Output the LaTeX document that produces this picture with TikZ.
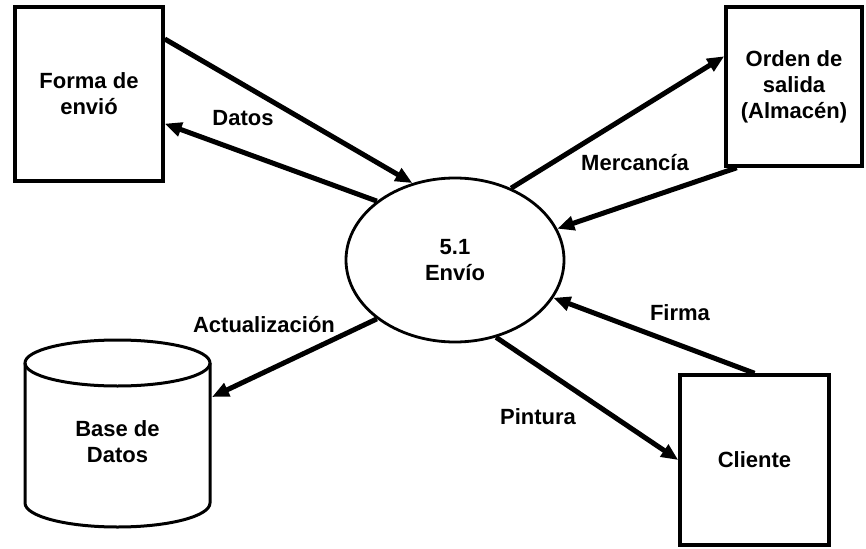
\documentclass[tikz,border=0pt]{standalone}
\usepackage{fontspec}
\setmainfont{Liberation Sans}
\usetikzlibrary{arrows.meta,calc,shapes.geometric}
\begin{document}
\begin{tikzpicture}[x=1pt,y=-1pt,
  lbl/.style={font=\fontsize{22}{26}\selectfont\bfseries, align=center, inner sep=0pt},
  ent/.style={draw, line width=3.5pt, lbl},
  flow/.style={line width=5pt, -{Triangle[length=17pt,width=14pt]}}]
\useasboundingbox (0,0) rectangle (866,548);
% entities
\node[ent, minimum width=148pt, minimum height=174pt] (forma) at (89,94) {Forma de\\envió};
\node[ent, minimum width=136pt, minimum height=159pt] (orden) at (794,86.5) {Orden de\\salida\\(Almacén)};
\node[ent, minimum width=149pt, minimum height=170pt] (cli) at (754.5,460) {Cliente};
\node[draw, ellipse, line width=2.8pt, minimum width=218pt, minimum height=164pt, lbl] (env) at (455,260) {5.1\\Envío};
% data store (cylinder)
\draw[line width=3pt] (117.5,363) ellipse [x radius=92.5, y radius=23];
\draw[line width=3pt] (25,363) -- (25,503) arc[start angle=180, end angle=0, x radius=92.5, y radius=24] -- (210,363);
\node[lbl] (db) at (117.5,442) {Base de\\Datos};
\coordinate (dbin) at (212,397);
% flows
\draw[flow] ($(forma.north east)!0.19!(forma.south east)$) -- (env.119);
\draw[flow] (env.143) -- ($(forma.north east)!0.667!(forma.south east)$);
\draw[flow] (env.52.6) -- ($(orden.north west)!0.314!(orden.south west)$);
\draw[flow] ($(orden.south west)!0.09!(orden.south east)$) -- (env.17.6);
\draw[flow] (env.217) -- (dbin);
\draw[flow] (env.-62) -- (cli.west);
\draw[flow] (cli.north) -- (env.-21);
% labels
\node[lbl] (l1) at (243,118) {Datos};
\node[lbl] (l2) at (635,163) {Mercancía};
\node[lbl] (l3) at (264,325) {Actualización};
\node[lbl] (l4) at (538,417) {Pintura};
\node[lbl] (l5) at (680,313) {Firma};
\end{tikzpicture}
\end{document}
